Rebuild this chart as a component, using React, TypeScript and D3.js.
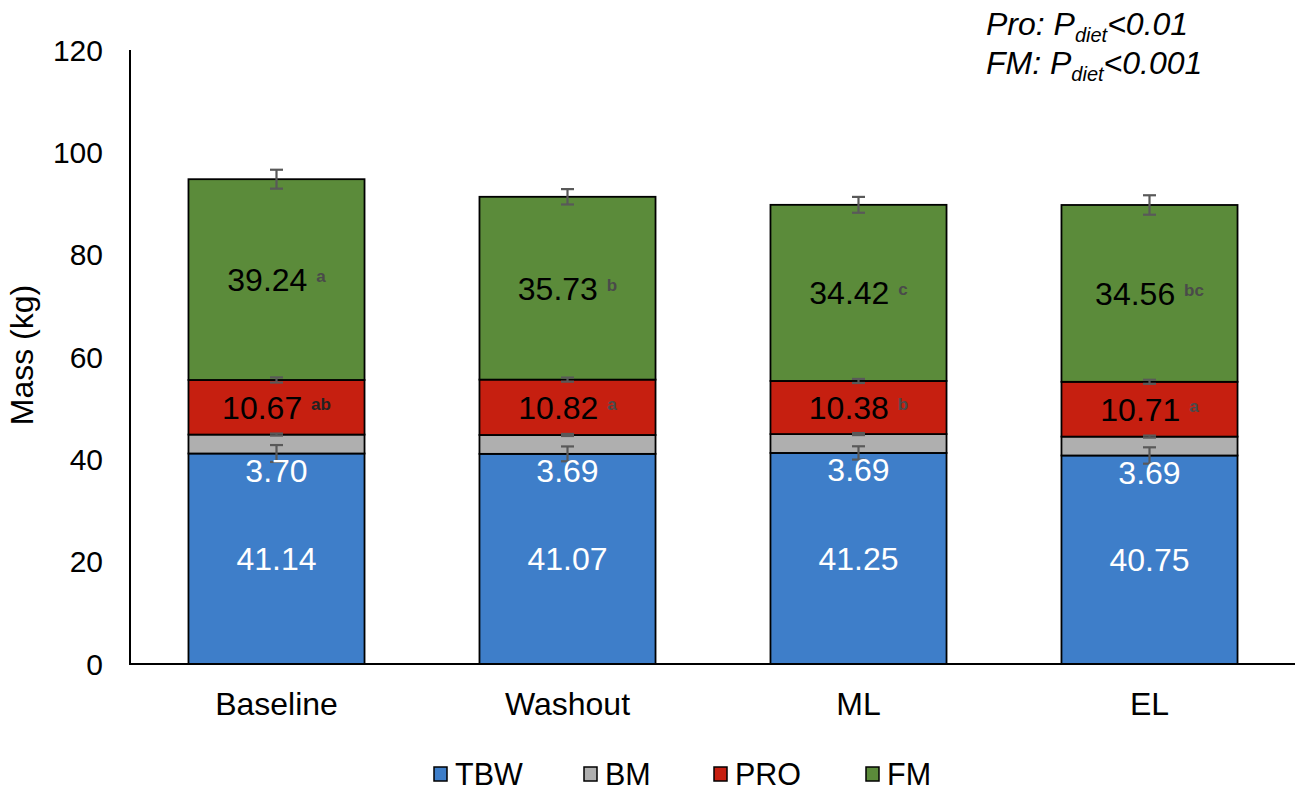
import React from "react";
import * as d3 from "d3";

const categories = ["Baseline", "Washout", "ML", "EL"];
const seriesNames = ["TBW", "BM", "PRO", "FM"];
const tbw = [41.14, 41.07, 41.25, 40.75];
const bm = [3.7, 3.69, 3.69, 3.69];
const pro = [10.67, 10.82, 10.38, 10.71];
const fm = [39.24, 35.73, 34.42, 34.56];
const tbwErr = [1.65, 1.45, 1.3, 1.6];
const bmErr = [0.2, 0.2, 0.2, 0.2];
const proErr = [0.5, 0.4, 0.4, 0.4];
const fmErr = [1.85, 1.5, 1.55, 1.9];
const proLetters = ["ab", "a", "b", "a"];
const fmLetters = ["a", "b", "c", "bc"];
const yTicks = [0, 20, 40, 60, 80, 100, 120];

const colors = ["#3e7ec9", "#afafaf", "#c61f10", "#5b8b3a"];
const FONT = "'Liberation Sans', Arial, sans-serif";

export default function App() {
  const W = 1295, H = 792;
  const x = d3.scaleBand().domain(categories).range([131, 1295]).paddingInner(0.395).paddingOuter(0.1975);
  const y = d3.scaleLinear().domain([0, 120]).range([664, 50]);
  const errs = [tbwErr, bmErr, proErr, fmErr];
  const rows = categories.map((c, i) => ({ cat: c, TBW: tbw[i], BM: bm[i], PRO: pro[i], FM: fm[i] }));
  const stacked = d3.stack<any>().keys(seriesNames)(rows);
  const bw = x.bandwidth();
  const labFs = 32;

  const legendX = [434, 584, 714, 866];

  return (
    <div style={{ position: "fixed", left: 0, top: 0 }}>
      <svg width={W} height={H} style={{ display: "block", fontFamily: FONT }}>
        <rect width={W} height={H} fill="#fff" />
        {/* bars */}
        {stacked.map((s, si) => (
          <g key={s.key}>
            {s.map((d, i) => (
              <rect
                key={i}
                x={x(categories[i])!}
                y={y(d[1])}
                width={bw}
                height={y(d[0]) - y(d[1])}
                fill={colors[si]}
                stroke="#000"
                strokeWidth={1.8}
              />
            ))}
          </g>
        ))}
        {/* error bars */}
        {stacked.map((s, si) => (
          <g key={"e" + s.key} stroke="#595959" strokeWidth={2.2}>
            {s.map((d, i) => {
              const cx = x(categories[i])! + bw / 2;
              const e = errs[si][i];
              const y1 = y(d[1] + e), y2 = y(d[1] - e);
              return (
                <g key={i}>
                  <line x1={cx} x2={cx} y1={y1} y2={y2} />
                  <line x1={cx - 6.5} x2={cx + 6.5} y1={y1} y2={y1} />
                  <line x1={cx - 6.5} x2={cx + 6.5} y1={y2} y2={y2} />
                </g>
              );
            })}
          </g>
        ))}
        {/* labels */}
        {categories.map((c, i) => {
          const cx = x(c)! + bw / 2;
          const sT = stacked[0][i], sP = stacked[2][i], sF = stacked[3][i];
          return (
            <g key={"l" + c} fontSize={labFs} textAnchor="middle">
              <text x={cx} y={(y(sT[0]) + y(sT[1])) / 2 + labFs * 0.36} fill="#fff">
                {tbw[i].toFixed(2)}
              </text>
              <text x={cx} y={y(sT[1]) + 17 + labFs * 0.36} fill="#fff">
                {bm[i].toFixed(2)}
              </text>
              <text x={cx} y={(y(sP[0]) + y(sP[1])) / 2 + labFs * 0.36} fill="#000">
                {pro[i].toFixed(2) + " "}
                <tspan fontSize={17} fontWeight="bold" fill={i === 0 ? "#222" : "#4a4a4a"} dy={-9}>
                  {proLetters[i]}
                </tspan>
              </text>
              <text x={cx} y={(y(sF[0]) + y(sF[1])) / 2 + labFs * 0.36} fill="#000">
                {fm[i].toFixed(2) + " "}
                <tspan fontSize={17} fontWeight="bold" fill="#4a4a4a" dy={-9}>
                  {fmLetters[i]}
                </tspan>
              </text>
            </g>
          );
        })}
        {/* axes */}
        <line x1={130} x2={130} y1={50} y2={665} stroke="#000" strokeWidth={2} />
        <line x1={129} x2={1295} y1={y(0)} y2={y(0)} stroke="#000" strokeWidth={2.2} />
        {yTicks.map((t) => (
          <text key={t} x={103} y={y(t) + 10.5} textAnchor="end" fontSize={30} fill="#000">
            {t}
          </text>
        ))}
        {categories.map((c) => (
          <text key={"c" + c} x={x(c)! + bw / 2} y={715} textAnchor="middle" fontSize={32} fill="#000">
            {c}
          </text>
        ))}
        <text transform="translate(33,355) rotate(-90)" textAnchor="middle" fontSize={32} fill="#000">
          Mass (kg)
        </text>
        {/* legend */}
        {seriesNames.map((n, i) => (
          <g key={"lg" + n}>
            <rect x={legendX[i]} y={767} width={13} height={14} fill={colors[i]} stroke="#000" strokeWidth={1.5} />
            <text x={legendX[i] + 21} y={785} fontSize={30.5} fill="#000">
              {n}
            </text>
          </g>
        ))}
        {/* annotation */}
        <g fontSize={32} fontStyle="italic" fill="#000">
          <text x={986} y={35}>
            Pro: P<tspan fontSize={20} dy={7}>diet</tspan>
            <tspan dy={-7}>&lt;0.01</tspan>
          </text>
          <text x={986} y={74}>
            FM: P<tspan fontSize={20} dy={7}>diet</tspan>
            <tspan dy={-7}>&lt;0.001</tspan>
          </text>
        </g>
      </svg>
    </div>
  );
}
